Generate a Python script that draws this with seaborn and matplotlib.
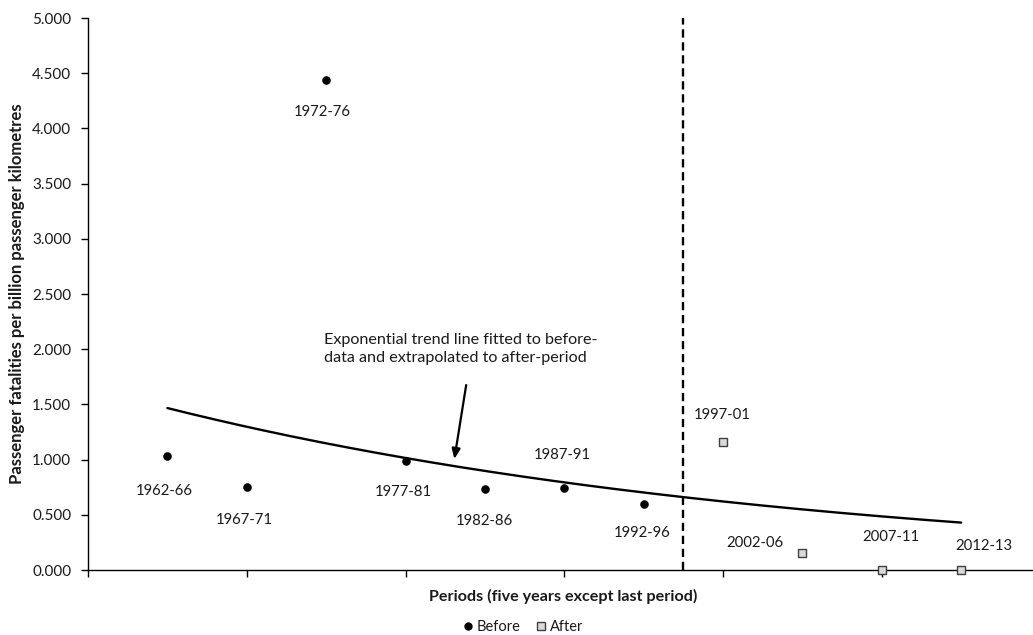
import numpy as np
import pandas as pd
import seaborn as sns
import matplotlib.pyplot as plt
from matplotlib.lines import Line2D

# data
periods = ['1962-66', '1967-71', '1972-76', '1977-81', '1982-86', '1987-91', '1992-96',
           '1997-01', '2002-06', '2007-11', '2012-13']
positions = [1, 2, 3, 4, 5, 6, 7, 8, 9, 10, 11]
fatalities = [1.03, 0.75, 4.44, 0.99, 0.73, 0.745, 0.60, 1.16, 0.155, 0.0, 0.0]
groups = ['Before'] * 7 + ['After'] * 4
split_at = 7.5

df = pd.DataFrame({'Period': periods, 'x': positions, 'Rate': fatalities, 'Group': groups})
before = df[df['Group'] == 'Before']
after = df[df['Group'] == 'After']

# exponential trend fitted to before-data, extrapolated to the last period
b, ln_a = np.polyfit(before['x'], np.log(before['Rate']), 1)
trend = pd.DataFrame({'x': np.linspace(1, 11, 200)})
trend['Rate'] = np.exp(ln_a + b * trend['x'])

# label offsets in pixels (dx, dy)
label_offsets = {
    '1962-66': (-3, -35), '1967-71': (-2, -33), '1972-76': (-4, -32),
    '1977-81': (-2, -31), '1982-86': (0, -32), '1987-91': (-2, 33),
    '1992-96': (-1, -29), '1997-01': (-1, 27), '2002-06': (-48, 10),
    '2007-11': (9, 33), '2012-13': (23, 24),
}

sns.set_style('white')
plt.rcParams['font.family'] = ['Lato', 'DejaVu Sans']
text_col = '#1a1a1a'

fig = plt.figure(figsize=(10.33, 6.35), dpi=100)
ax = fig.add_axes([88 / 1033, 1 - 570 / 635, 952.5 / 1033, 552 / 635])

sns.lineplot(data=trend, x='x', y='Rate', color='black', linewidth=1.7, ax=ax, zorder=2)
ax.axvline(split_at, color='black', linewidth=1.7, linestyle=(0, (3.5, 2)), zorder=1)
sns.scatterplot(data=before, x='x', y='Rate', marker='o', color='black', s=38,
                edgecolor='black', linewidth=0, ax=ax, zorder=3, clip_on=False)
sns.scatterplot(data=after, x='x', y='Rate', marker='s', color='#d9d9d9', s=38,
                edgecolor='#404040', linewidth=1.0, ax=ax, zorder=3, clip_on=False)

for _, row in df.iterrows():
    ax.annotate(row['Period'], (row['x'], row['Rate']), xytext=label_offsets[row['Period']],
                textcoords='offset pixels', ha='center', va='center', fontsize=10.7, color=text_col)

ax.annotate('', xy=(4.61, 0.98), xytext=(4.77, 1.70),
            arrowprops=dict(arrowstyle='-|>,head_length=0.6,head_width=0.25', color='black', lw=1.6))
ax.text(2.97, 2.0, 'Exponential trend line fitted to before-\ndata and extrapolated to after-period',
        ha='left', va='center', fontsize=11.6, color=text_col, linespacing=1.4)

ax.set_xlim(0, 12)
ax.set_ylim(0, 5)
ax.set_xticks(range(0, 13, 2))
ax.set_xticklabels([])
ax.set_yticks(np.arange(0, 5.01, 0.5))
ax.set_yticklabels([f'{v:.3f}' for v in np.arange(0, 5.01, 0.5)])
ax.tick_params(axis='both', direction='out', length=5, width=1, color='black',
               labelsize=11, labelcolor=text_col, pad=7)
ax.tick_params(axis='y', left=True)
ax.tick_params(axis='x', bottom=True)
sns.despine(ax=ax)
for side in ['left', 'bottom']:
    ax.spines[side].set_color('black')
    ax.spines[side].set_linewidth(1)
ax.set_xlabel('')
ax.set_ylabel('Passenger fatalities per billion passenger kilometres', fontsize=12,
              fontweight='bold', color=text_col)
ax.yaxis.set_label_coords((17 - 88) / 952.5, 0.5)
ax.yaxis.label.set_va('center')

fig.text(563 / 1033, 1 - 596 / 635, 'Periods (five years except last period)', ha='center',
         va='center', fontsize=11.6, fontweight='bold', color=text_col)

handles = [
    Line2D([], [], marker='o', color='black', linestyle='none', markersize=5),
    Line2D([], [], marker='s', markerfacecolor='#d9d9d9', markeredgecolor='#404040',
           linestyle='none', markersize=6),
]
fig.legend(handles, ['Before', 'After'], loc='center', bbox_to_anchor=(523 / 1033, 1 - 627 / 635),
           ncol=2, frameon=False, fontsize=10.5, handlelength=0.7, handletextpad=0.3,
           columnspacing=1.0, labelcolor=text_col)

fig.savefig('out.png', dpi=100)
